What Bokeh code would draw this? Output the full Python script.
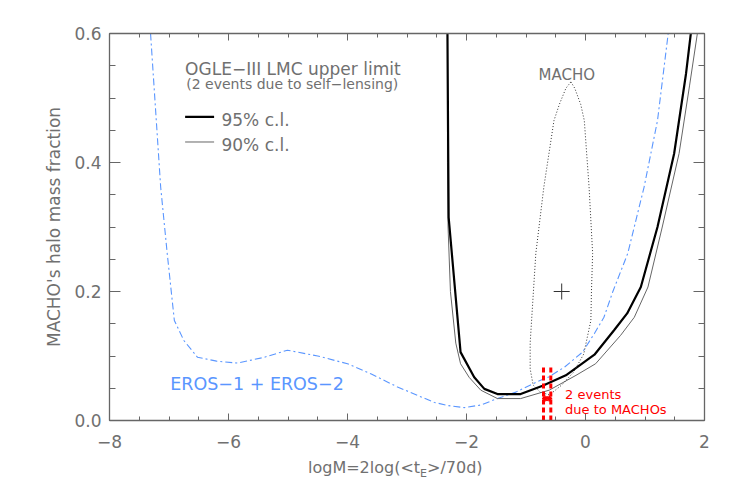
from bokeh.plotting import figure
from bokeh.models import Range1d, LinearAxis, FixedTicker, Label, Div
from bokeh.layouts import column
from bokeh.embed import file_html
from bokeh.resources import INLINE

# ---- data ----
xtick_vals = [-8, -6, -4, -2, 0, 2]
xtick_labels = ["\u22128", "\u22126", "\u22124", "\u22122", "0", "2"]
xminor_vals = [-8 + 0.5 * i for i in range(21)]
ytick_vals = [0.0, 0.2, 0.4, 0.6]
ytick_labels = ["0.0", "0.2", "0.4", "0.6"]
yminor_vals = [0.05 * i for i in range(13)]

eros_x = [-7.31, -7.14, -7.03, -6.91, -6.75, -6.52, -6.2, -5.85, -5.4, -5.01, -4.5, -4.0,
          -3.6, -3.16, -2.8, -2.54, -2.3, -2.04, -1.76, -1.48, -1.17, -0.835, -0.61, -0.35,
          -0.05, 0.15, 0.31, 0.46, 0.71, 0.985, 1.21, 1.39]
eros_y = [0.6, 0.362, 0.259, 0.155, 0.124, 0.098, 0.092, 0.089, 0.098, 0.109, 0.100, 0.088,
          0.072, 0.052, 0.038, 0.028, 0.023, 0.020, 0.024, 0.034, 0.044, 0.059, 0.068, 0.083,
          0.106, 0.135, 0.160, 0.200, 0.259, 0.362, 0.465, 0.6]

cl95_x = [-2.32, -2.31, -2.30, -2.10, -1.87, -1.70, -1.48, -1.09, -0.72, -0.33, 0.15,
          0.48, 0.70, 0.93, 1.21, 1.49, 1.69, 1.77]
cl95_y = [0.60, 0.45, 0.315, 0.106, 0.067, 0.049, 0.041, 0.041, 0.054, 0.070, 0.102,
          0.140, 0.166, 0.207, 0.300, 0.414, 0.538, 0.60]

cl90_x = [-2.32, -2.32, -2.31, -2.27, -2.18, -2.10, -1.956, -1.76, -1.48, -1.09, -0.61,
          -0.16, 0.17, 0.59, 0.82, 1.05, 1.29, 1.573, 1.75, 1.88]
cl90_y = [0.60, 0.40, 0.30, 0.20, 0.12, 0.088, 0.067, 0.047, 0.034, 0.034, 0.047,
          0.070, 0.088, 0.132, 0.160, 0.207, 0.300, 0.414, 0.520, 0.60]

macho_x = [-0.245, -0.18, -0.08, -0.02, 0.06, 0.12, 0.10, 0.09, -0.03, -0.20, -0.40,
           -0.60, -0.75, -0.88, -0.93, -0.93, -0.835, -0.70, -0.53, -0.44, -0.33, -0.245]
macho_y = [0.525, 0.515, 0.49, 0.465, 0.362, 0.259, 0.20, 0.155, 0.103, 0.075, 0.055,
           0.040, 0.043, 0.055, 0.080, 0.120, 0.259, 0.362, 0.465, 0.49, 0.515, 0.525]

macho_best_x = [-0.40]
macho_best_y = [0.20]

event_x = [-0.706, -0.583]
event_top = [0.084, 0.084]
event_star_x = [-0.68, -0.61]
event_star_y = [0.034, 0.034]

FONT = "DejaVu Sans"
GRAY = "#707070"

p = figure(width=720, height=455, x_range=Range1d(-8, 2), y_range=Range1d(0, 0.6),
           output_backend="svg", toolbar_location=None,
           min_border_left=109, min_border_right=16, min_border_top=33, min_border_bottom=35)
p.xgrid.visible = False
p.ygrid.visible = False
p.outline_line_color = None
p.background_fill_color = "white"

# curves
p.line(eros_x, eros_y, line_color="#5a96ff", line_width=1.1, line_dash="7 3 2 3")
p.line(cl90_x, cl90_y, line_color="#666666", line_width=1)
p.line(cl95_x, cl95_y, line_color="black", line_width=2.2)
p.line(macho_x, macho_y, line_color="#333333", line_width=1, line_dash="1 2")
p.scatter(macho_best_x, macho_best_y, marker="cross", size=16, line_color="#333333", line_width=1)

# MACHO events
for ex, et in zip(event_x, event_top):
    p.line([ex, ex], [0, et], line_color="red", line_width=3, line_dash="5 3")
p.scatter(event_star_x, event_star_y, marker="asterisk", size=6, line_color="red", line_width=1.5)

# legend lines
p.line([-6.729, -6.242], [0.4706, 0.4706], line_color="black", line_width=2.2)
p.line([-6.729, -6.242], [0.4318, 0.4318], line_color="#666666", line_width=1)

def lab(x, y, text, size, color=GRAY, align="left", baseline="alphabetic"):
    p.add_layout(Label(x=x, y=y, text=text, text_font=FONT, text_font_size=size,
                       text_color=color, text_align=align, text_baseline=baseline))

lab(-6.729, 0.545, "OGLE\u2212III LMC upper limit", "17px")
lab(-6.71, 0.521, "(2 events due to self\u2212lensing)", "14px")
lab(-6.118, 0.466, "95% c.l.", "17px", baseline="middle")
lab(-6.118, 0.4272, "90% c.l.", "17px", baseline="middle")
lab(-0.314, 0.536, "MACHO", "15px", align="center")
lab(-6.98, 0.057, "EROS\u22121 + EROS\u22122", "17.5px", color="#5a96ff")
lab(-0.343, 0.041, "2 events", "13px", color="red")
lab(-0.343, 0.017, "due to MACHOs", "13px", color="red")

# axes
def style(ax, labels=True, tin_major=7, tin_minor=4):
    ax.axis_line_color = "#666666"
    ax.axis_line_width = 1.3
    ax.major_tick_line_color = "#666666"
    ax.minor_tick_line_color = "#666666"
    ax.major_tick_in = tin_major
    ax.major_tick_out = 0
    ax.minor_tick_in = tin_minor
    ax.minor_tick_out = 0
    ax.major_label_text_font = FONT
    ax.major_label_text_color = GRAY
    if labels:
        ax.major_label_text_font_size = "17px"
    else:
        ax.major_label_text_font_size = "0px"
        ax.major_label_standoff = 0

xt = FixedTicker(ticks=xtick_vals, minor_ticks=xminor_vals)
yt = FixedTicker(ticks=ytick_vals, minor_ticks=yminor_vals)

xa = p.xaxis[0]
xa.ticker = xt
xa.major_label_overrides = {v: l for v, l in zip(xtick_vals, xtick_labels)}
style(xa, True, 7, 4)
xa.major_label_standoff = 14

ya = p.yaxis[0]
ya.ticker = yt
ya.major_label_overrides = {v: l for v, l in zip(ytick_vals, ytick_labels)}
style(ya, True, 11, 6)
ya.major_label_standoff = 8
ya.axis_label = "MACHO's halo mass fraction"
ya.axis_label_text_font = FONT
ya.axis_label_text_font_size = "17px"
ya.axis_label_text_font_style = "normal"
ya.axis_label_text_color = GRAY
ya.axis_label_standoff = 7

top = LinearAxis(ticker=FixedTicker(ticks=xtick_vals, minor_ticks=xminor_vals))
style(top, False, 7, 4)
top.major_label_overrides = {v: "" for v in xtick_vals}
p.add_layout(top, "above")

right = LinearAxis(ticker=FixedTicker(ticks=ytick_vals, minor_ticks=yminor_vals))
style(right, False, 11, 6)
right.major_label_overrides = {v: "" for v in ytick_vals}
p.add_layout(right, "right")

# x-axis title with a real subscript
xlabel_html = (
    '<div style="margin:4px 0 0 308px;font-family:\'DejaVu Sans\';font-size:16px;'
    'line-height:18px;color:#707070;white-space:nowrap">'
    'logM=2log(&lt;t<span style="font-size:11px;position:relative;top:4px">E</span>'
    '&gt;/70d)</div>'
)
xlabel = Div(text=xlabel_html, width=720, height=26, margin=(0, 0, 0, 0))

layout = column(p, xlabel, spacing=0)
open("out.html", "w").write(file_html(layout, INLINE))
